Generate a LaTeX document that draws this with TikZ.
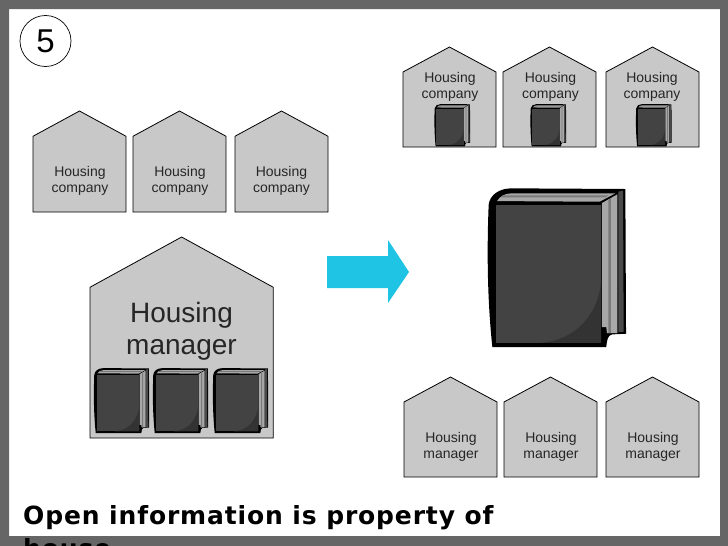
\documentclass[tikz,border=0pt]{standalone}
\usepackage{fontspec}
\setmainfont{Liberation Sans}
\newfontfamily\titlefont[LetterSpace=3.4]{DejaVu Sans}
\definecolor{framegray}{HTML}{666666}
\definecolor{housegray}{HTML}{C8C8C8}
\definecolor{arrowblue}{HTML}{1FC3E3}
\definecolor{coverdark}{HTML}{434343}
\definecolor{covershade}{HTML}{333333}
\definecolor{pagelight}{HTML}{A8A8A8}
\definecolor{pagemid}{HTML}{7A7A7A}
\definecolor{backcover}{HTML}{4A4A4A}

\begin{document}
\begin{tikzpicture}
		[x=1pt,y=-1pt,
		lab/.style= {align=center,inner sep=0pt,font=\fontsize{14}{16}\selectfont,text=black!85},
		biglab/.style= {align=center,inner sep=0pt,font=\fontsize{28}{32}\selectfont,text=black!85},
		pics/house/.style= {code={
			\draw[fill=housegray,line width=.8pt,line join=miter]
				(0,0) -- (93,0) -- (93,-75) -- (46.5,-100) -- (0,-75) -- cycle;
		}},
		pics/book/.style= {code={
			\begin{scope}[shift={(-25,-25)}]
			\fill[black] (27,75) .. controls (30,45) and (60,26) .. (95,26) -- (435,28) -- (437,460)
				-- (395,462) .. controls (382,465) and (380,480) .. (378,500) -- (38,500)
				.. controls (22,350) and (22,200) .. (27,75) -- cycle;
			\fill[pagelight] (52,64) .. controls (60,50) and (75,41) .. (95,41) -- (405,41) -- (358,66) -- cycle;
			\fill[pagemid] (70,47) -- (385,47) -- (375,53) -- (62,53) -- cycle;
			\fill[pagelight] (365,70) -- (411,44) -- (411,458) -- (380,458) -- (378,440) -- (365,440) -- cycle;
			\fill[pagemid] (384,60) -- (392,55) -- (392,458) -- (384,458) -- cycle;
			\fill[backcover] (414,36) -- (428,33) -- (430,454) -- (414,455) -- cycle;
			\fill[coverdark] (48,76) -- (363,76) -- (363,487) -- (48,487) -- cycle;
			\fill[covershade] (363,300) .. controls (355,400) and (290,480) .. (180,487) -- (363,487) -- cycle;
			\end{scope}
		}}]

		\clip (0,0) rectangle (728,546);
		\fill[white] (0,0) rectangle (728,546);
		\fill[framegray,even odd rule] (0,0) rectangle (728,546) (9,9) rectangle (720,536);

		\node[circle,draw=black,fill=white,line width=.7pt,minimum size=51pt,inner sep=0pt,font=\fontsize{33}{36}\selectfont] (num) at (45.5,41) {5};

		\pic[yscale=1.01] at (33,212) {house};
		\node[lab] (comp1) at (80,181) {Housing\\company};
		\pic[yscale=1.01] at (133,212) {house};
		\node[lab] (comp2) at (180,181) {Housing\\company};
		\pic[yscale=1.01] at (235,212) {house};
		\node[lab] (comp3) at (281.5,181) {Housing\\company};

		\pic[xscale=1.97,yscale=2.01] at (90,438) {house};
		\node[biglab] (mgr) at (181.5,331) {Housing\\manager};
		\pic[xscale=.134,yscale=.137] at (94,368) {book};
		\pic[xscale=.134,yscale=.137] at (153,368) {book};
		\pic[xscale=.134,yscale=.137] at (213,368) {book};

		\fill[arrowblue] (327,256) -- (388,256) -- (388,240) -- (409,272) -- (388,303) -- (388,288) -- (327,288) -- cycle;

		\pic at (403,147) {house};
		\node[lab] (comp4) at (450,87) {Housing\\company};
		\pic[xscale=.0865,yscale=.089] at (434.5,104) {book};
		\pic at (503,147) {house};
		\node[lab] (comp5) at (550.5,87) {Housing\\company};
		\pic[xscale=.0865,yscale=.089] at (530.5,104) {book};
		\pic at (606,147) {house};
		\node[lab] (comp6) at (652,87) {Housing\\company};
		\pic[xscale=.0865,yscale=.089] at (636,104) {book};

		\pic[xscale=.335,yscale=.335] at (488,188) {book};

		\pic at (404,477) {house};
		\node[lab] (mgr1) at (451,447) {Housing\\manager};
		\pic at (504,477) {house};
		\node[lab] (mgr2) at (551,447) {Housing\\manager};
		\pic at (606,477) {house};
		\node[lab] (mgr3) at (653,447) {Housing\\manager};

		\node[anchor=base west,inner sep=0pt,font=\titlefont\bfseries\fontsize{25}{33}\selectfont,align=left] (title) at (23,557) {Open information is property of\\house};
\end{tikzpicture}
\end{document}
